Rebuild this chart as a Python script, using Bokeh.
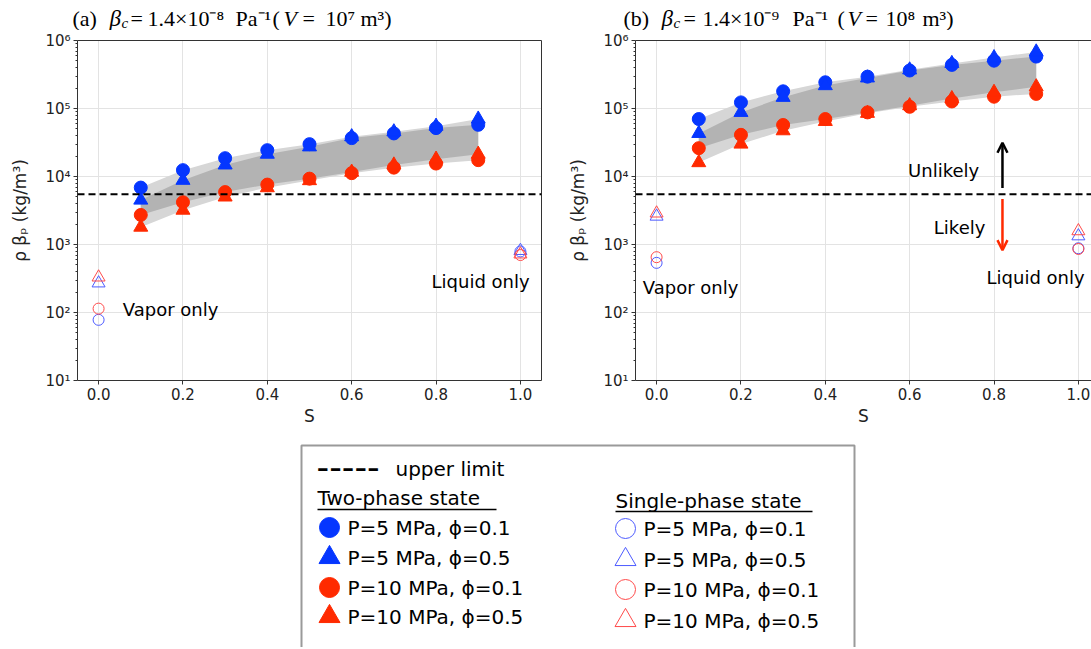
import numpy as np
from bokeh.plotting import figure
from bokeh.models import (Range1d, FixedTicker, CustomJSTickFormatter, PrintfTickFormatter,
                          Span, Label, Arrow, OpenHead, LinearAxis, ColumnDataSource)
from bokeh.layouts import column, row
from bokeh.core.properties import value
from bokeh.embed import file_html
from bokeh.resources import INLINE

# ---------------- data ----------------
S = [0.1, 0.2, 0.3, 0.4, 0.5, 0.6, 0.7, 0.8, 0.9]
S_single = [0.0, 1.0]

# panel (a): beta_c = 1.4e-8 Pa^-1
a_p5_phi01 = [6870, 12400, 18600, 24400, 29900, 36700, 43000, 51500, 57600]
a_p5_phi05 = [4500, 8800, 14800, 21300, 27300, 38500, 45500, 55000, 70000]
a_p10_phi01 = [2720, 4180, 5900, 7600, 9300, 11200, 13500, 15500, 17400]
a_p10_phi05 = [1800, 3200, 5000, 6850, 8700, 11600, 14800, 18000, 21300]
a_single_p5_phi01 = [78, 790]
a_single_p5_phi05 = [270, 810]
a_single_p10_phi01 = [114, 700]
a_single_p10_phi05 = [330, 720]

# panel (b): beta_c = 1.4e-9 Pa^-1
b_p5_phi01 = [70000, 123000, 179000, 243000, 294000, 362000, 438000, 505000, 580000]
b_p5_phi05 = [43000, 87700, 146000, 217000, 282000, 370000, 460000, 560000, 680000]
b_p10_phi01 = [26100, 41000, 57200, 70000, 87700, 106000, 127000, 149000, 164000]
b_p10_phi05 = [16000, 30000, 47100, 64600, 85000, 110000, 140000, 173000, 209000]
b_single_p5_phi01 = [537, 880]
b_single_p5_phi05 = [2590, 1330]
b_single_p10_phi01 = [651, 860]
b_single_p10_phi05 = [2880, 1580]

upper_limit = 5500
arrow_S = 0.82
unlikely_arrow = [6800, 31300]
likely_arrow = [4680, 826]

x_ticks = [0.0, 0.2, 0.4, 0.6, 0.8, 1.0]
y_ticks = [1e1, 1e2, 1e3, 1e4, 1e5, 1e6]
legend_labels = ["P=5 MPa, \u03d5=0.1", "P=5 MPa, \u03d5=0.5",
                 "P=10 MPa, \u03d5=0.1", "P=10 MPa, \u03d5=0.5"]

BLUE = "#0536ff"
RED = "#ff2a00"
OBLUE = "#4d5bff"
ORED = "#ff4a4a"
SANS = "DejaVu Sans"
SERIF = "Liberation Serif"

PPU = 421.8  # pixels per unit S
TOP = 30     # height of the title strip


def spine():
    return LinearAxis(ticker=FixedTicker(ticks=[]), major_tick_line_color=None,
                      minor_tick_line_color=None, axis_line_color="#333333")


def make_panel(width, border_left, border_right, x_end, x0px, two, single, extra):
    p = figure(width=width, height=400, x_range=Range1d(-0.05, x_end), y_range=Range1d(10, 1e6),
               y_axis_type="log", toolbar_location=None, output_backend="svg",
               min_border_left=border_left, min_border_right=border_right,
               min_border_top=10, min_border_bottom=50)
    p.outline_line_color = None

    xa = p.xaxis[0]
    xa.ticker = FixedTicker(ticks=x_ticks)
    xa.formatter = PrintfTickFormatter(format="%.1f")
    xa.axis_label = "S"
    ya = p.yaxis[0]
    minors = [m * 10.0 ** k for k in range(1, 6) for m in range(2, 10)]
    ya.ticker = FixedTicker(ticks=y_ticks, minor_ticks=minors)
    ya.formatter = CustomJSTickFormatter(code="""
        const sup = {"-":"\u207b","0":"\u2070","1":"\u00b9","2":"\u00b2","3":"\u00b3","4":"\u2074",
                     "5":"\u2075","6":"\u2076","7":"\u2077","8":"\u2078","9":"\u2079"};
        const e = Math.round(Math.log10(tick)).toString();
        return "10" + e.split("").map(c => sup[c]).join("");
    """)
    ya.axis_label = "\u03c1 \u03b2\u209a (kg/m\u00b3)"
    for ax in (xa, ya):
        ax.axis_line_color = "#333333"
        ax.major_tick_line_color = "#333333"
        ax.minor_tick_line_color = "#333333"
        ax.major_tick_out = 4
        ax.major_tick_in = 0
        ax.minor_tick_out = 2
        ax.minor_tick_in = 0
        ax.major_label_text_font = SANS
        ax.major_label_text_font_size = "15px"
        ax.major_label_text_color = "#222222"
        ax.axis_label_text_font = SANS
        ax.axis_label_text_font_size = "17px"
        ax.axis_label_text_font_style = "normal"
        ax.axis_label_text_color = "#222222"
        ax.major_label_standoff = 3
    xa.minor_tick_line_color = None
    xa.axis_label_standoff = 3
    ya.axis_label_standoff = 12

    p.add_layout(spine(), "above")
    if border_right > 0:
        p.add_layout(spine(), "right")

    p.grid.grid_line_color = "#e3e3e3"
    p.grid.grid_line_width = 1

    arr = np.array([two["p5_01"], two["p5_05"], two["p10_01"], two["p10_05"]], dtype=float)
    blues = arr[:2]
    reds = arr[2:]
    src = ColumnDataSource(dict(S=S, p5_01=two["p5_01"], p5_05=two["p5_05"],
                                p10_01=two["p10_01"], p10_05=two["p10_05"],
                                light_hi=blues.max(axis=0), light_lo=reds.min(axis=0),
                                dark_hi=blues.min(axis=0), dark_lo=reds.max(axis=0)))
    p.varea(x="S", y1="light_lo", y2="light_hi", source=src, fill_color="#d6d6d6")
    p.varea(x="S", y1="dark_lo", y2="dark_hi", source=src, fill_color="#b3b3b3")

    p.scatter("S", "p5_01", source=src, marker="circle", size=13, fill_color=BLUE, line_color=BLUE)
    p.scatter("S", "p5_05", source=src, marker="triangle", size=14, fill_color=BLUE, line_color=BLUE)
    p.scatter("S", "p10_01", source=src, marker="circle", size=13, fill_color=RED, line_color=RED)
    p.scatter("S", "p10_05", source=src, marker="triangle", size=14, fill_color=RED, line_color=RED)

    ssrc = ColumnDataSource(dict(S=S_single, p5_01=single["p5_01"], p5_05=single["p5_05"],
                                 p10_01=single["p10_01"], p10_05=single["p10_05"]))
    p.scatter("S", "p5_01", source=ssrc, marker="circle", size=11, fill_color=None, line_color=OBLUE, line_width=1)
    p.scatter("S", "p5_05", source=ssrc, marker="triangle", size=13, fill_color=None, line_color=OBLUE, line_width=1)
    p.scatter("S", "p10_01", source=ssrc, marker="circle", size=11, fill_color=None, line_color=ORED, line_width=1)
    p.scatter("S", "p10_05", source=ssrc, marker="triangle", size=13, fill_color=None, line_color=ORED, line_width=1)

    p.add_layout(Span(location=upper_limit, dimension="width", line_color="black",
                      line_width=2, line_dash="7 4"))

    def xd(px):
        return (px - x0px) / PPU

    def yd(py):
        return 10 ** (6 - (py - 40) / 68.0)

    for txt, cx, cy in extra:
        p.add_layout(Label(x=xd(cx), y=yd(cy), text=txt, text_font=SANS, text_font_size="18px",
                           text_color="black", text_align="center", text_baseline="middle"))
    return p


pa = make_panel(560, 77, 19, 1.05, 98,
                dict(p5_01=a_p5_phi01, p5_05=a_p5_phi05, p10_01=a_p10_phi01, p10_05=a_p10_phi05),
                dict(p5_01=a_single_p5_phi01, p5_05=a_single_p5_phi05,
                     p10_01=a_single_p10_phi01, p10_05=a_single_p10_phi05),
                [("Vapor only", 170, 309), ("Liquid only", 480, 281)])

pb = make_panel(531, 75, 0, -0.05 + 456 / PPU, 656,
                dict(p5_01=b_p5_phi01, p5_05=b_p5_phi05, p10_01=b_p10_phi01, p10_05=b_p10_phi05),
                dict(p5_01=b_single_p5_phi01, p5_05=b_single_p5_phi05,
                     p10_01=b_single_p10_phi01, p10_05=b_single_p10_phi05),
                [("Vapor only", 690, 287), ("Liquid only", 1035, 277),
                 ("Unlikely", 943, 170), ("Likely", 959, 227)])
pb.add_layout(Arrow(x_start=arrow_S, y_start=unlikely_arrow[0], x_end=arrow_S, y_end=unlikely_arrow[1],
                    line_color="black", line_width=2.5,
                    end=OpenHead(size=10, line_color="black", line_width=2.5)))
pb.add_layout(Arrow(x_start=arrow_S, y_start=likely_arrow[0], x_end=arrow_S, y_end=likely_arrow[1],
                    line_color=RED, line_width=2.5,
                    end=OpenHead(size=10, line_color=RED, line_width=2.5)))

# ---------------- title strip ----------------
pt = figure(width=1091, height=TOP, x_range=Range1d(0, 1091), y_range=Range1d(TOP, 0),
            toolbar_location=None, output_backend="svg", min_border=0, title=None,
            x_axis_location=None, y_axis_location=None)
pt.grid.visible = False
pt.outline_line_color = None

title_pieces = [
    ("(a)", 72, False, 22, 0), ("\u03b2", 109, True, 23, 0), ("c", 121, True, 15, 4),
    ("=", 130, False, 22, 0), ("1.4\u00d710\u207b\u2078", 147, False, 22, 0),
    ("Pa\u207b\u00b9", 235, False, 22, 0), ("(", 272, False, 22, 0), ("V", 283, True, 22, 0),
    ("=", 302, False, 22, 0), ("10\u2077", 325, False, 22, 0), ("m\u00b3)", 360, False, 22, 0),
    ("(b)", 623, False, 22, 0), ("\u03b2", 661, True, 23, 0), ("c", 673, True, 15, 4),
    ("=", 683, False, 22, 0), ("1.4\u00d710\u207b\u2079", 702, False, 22, 0),
    ("Pa\u207b\u00b9", 792, False, 22, 0), ("(", 837, False, 22, 0), ("V", 847, True, 22, 0),
    ("=", 865, False, 22, 0), ("10\u2078", 885, False, 22, 0), ("m\u00b3)", 922, False, 22, 0)]
for txt, px, italic, size, dy in title_pieces:
    pt.text(x=[px], y=[18 + dy], text=[txt], text_font=value(SERIF), text_font_size=f"{size}px",
            text_font_style="italic" if italic else "normal", text_color="black",
            text_baseline="middle", text_align="left")

# ---------------- legend strip ----------------
LH = 217
pl = figure(width=1091, height=LH, x_range=Range1d(0, 1091), y_range=Range1d(430 + LH, 430),
            toolbar_location=None, output_backend="svg", min_border=0, title=None,
            x_axis_location=None, y_axis_location=None)
pl.grid.visible = False
pl.outline_line_color = None
pl.quad(left=[301], right=[854], top=[445], bottom=[700], fill_color=None,
        line_color="#9a9a9a", line_width=2)
pl.text(x=[316], y=[465], text=["-----"], text_font=value(SANS), text_font_size="35px",
        text_baseline="middle", text_color="black")
pl.text(x=[395], y=[468], text=["upper limit"], text_font=value(SANS), text_font_size="20px",
        text_baseline="middle", text_color="black")
pl.text(x=[317, 615], y=[497, 500], text=["Two-phase state", "Single-phase state"],
        text_font=value(SANS), text_font_size="20px", text_baseline="middle", text_color="black")
pl.segment(x0=[317, 615], y0=[509, 511], x1=[496, 812], y1=[509, 511], line_color="black", line_width=1.5)

rows_left = [527, 557, 587, 616]
rows_right = [528, 559, 589, 620]
pl.text(x=[347] * 4, y=rows_left, text=legend_labels, text_font=value(SANS),
        text_font_size="20px", text_baseline="middle", text_color="black")
pl.text(x=[643] * 4, y=rows_right, text=legend_labels, text_font=value(SANS),
        text_font_size="20px", text_baseline="middle", text_color="black")
markers = ["circle", "triangle", "circle", "triangle"]
fills = [BLUE, BLUE, RED, RED]
opens = [OBLUE, OBLUE, ORED, ORED]
for i in range(4):
    pl.scatter([329], [rows_left[i]], marker=markers[i], size=20 if markers[i] == "circle" else 21,
               fill_color=fills[i], line_color=fills[i])
    pl.scatter([625], [rows_right[i]], marker=markers[i], size=20 if markers[i] == "circle" else 21,
               fill_color=None, line_color=opens[i], line_width=1)

layout = column(pt, row(pa, pb), pl)
open("out.html", "w").write(file_html(layout, INLINE))
